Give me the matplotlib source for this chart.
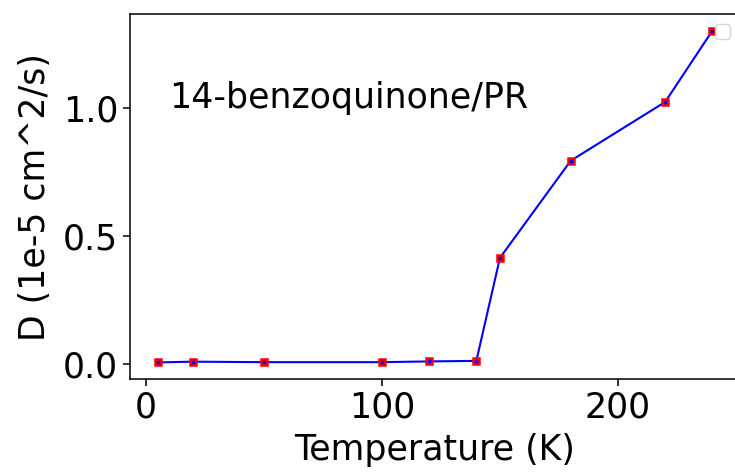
import matplotlib
matplotlib.use('Agg')
import matplotlib.pyplot as plt

temperature = [5, 20, 50, 100, 120, 140, 150, 180, 220, 240]
diffusion = [0.006, 0.009, 0.007, 0.007, 0.010, 0.012, 0.414, 0.793, 1.022, 1.300]
label_text = '14-benzoquinone/PR'

fig = plt.figure(figsize=(7.35, 4.72), dpi=100)
ax = fig.add_axes([0.1769, 0.197, 0.830, 0.773])

ax.plot(temperature, diffusion, color='blue', linewidth=1.5, marker='s',
        markersize=5, markerfacecolor='blue', markeredgecolor='red', markeredgewidth=1.8)
ax.text(10, 1.0, label_text, fontsize=25)

ax.set_xlabel('Temperature (K)', fontsize=25, labelpad=6)
ax.set_ylabel('D (1e-5 cm^2/s)', fontsize=25, labelpad=8)
ax.tick_params(labelsize=25, length=5, width=1.1)
for s in ax.spines.values():
    s.set_linewidth(1.1)
ax.set_xticks([0, 100, 200])
ax.set_yticks([0.0, 0.5, 1.0])
ax.legend(loc='upper right', handles=[], fontsize=13.8)

plt.savefig('out.png', dpi=100)
